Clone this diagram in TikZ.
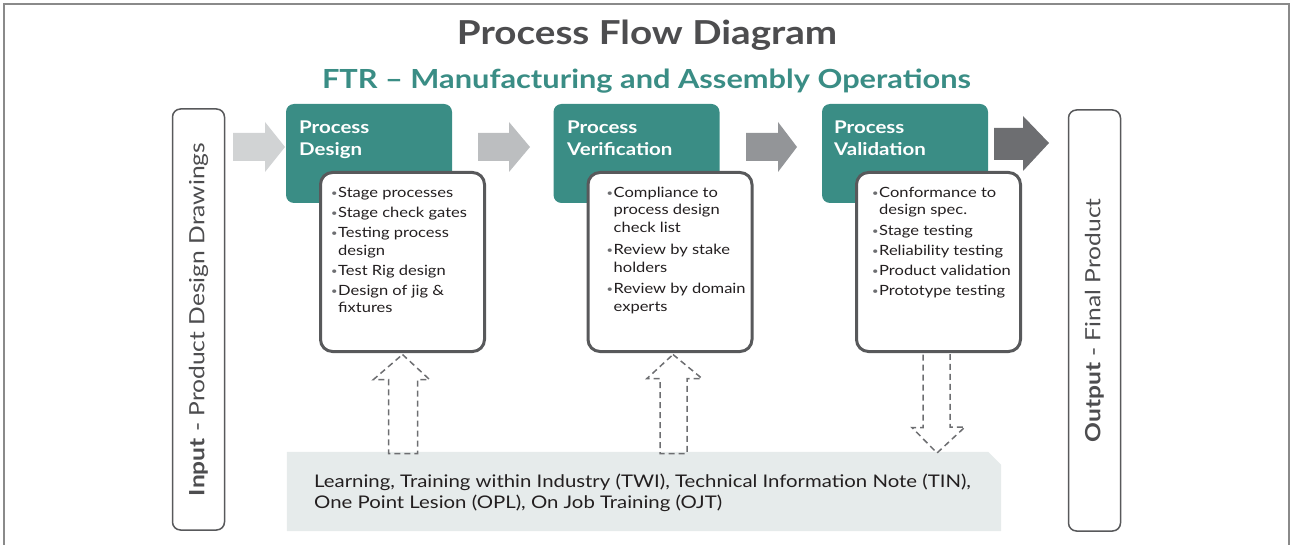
\documentclass[tikz,border=0pt]{standalone}
\usepackage{fontspec}
\setmainfont{Lato}[FakeStretch=1.17]
\definecolor{tealc}{HTML}{3A8D85}
\definecolor{titlec}{HTML}{4D4D4F}
\definecolor{framec}{HTML}{8A8A8A}
\definecolor{boxc}{HTML}{58595B}
\definecolor{learnc}{HTML}{E6EBEB}
\definecolor{txtc}{HTML}{231F20}
\definecolor{bulc}{HTML}{6D6E71}
\definecolor{arA}{HTML}{D1D3D4}
\definecolor{arB}{HTML}{BCBEC0}
\definecolor{arC}{HTML}{939598}
\definecolor{arD}{HTML}{6D6E71}
\definecolor{dashc}{HTML}{6D6E71}
\newcommand{\bl}{\makebox[7pt][l]{\textcolor{bulc}{\fontsize{9.5}{9.5}\selectfont\raisebox{1pt}{•}}}}
\newcommand{\ind}{\hspace*{7pt}}
\pgfdeclarelayer{bg}
\pgfdeclarelayer{mid}
\pgfsetlayers{bg,mid,main}
\tikzset{
  sidebox/.style={draw=boxc, line width=1.5pt, rounded corners=8pt, fill=white, rotate=90,
    minimum width=421pt, minimum height=52pt, inner sep=0pt, text=titlec,
    font=\fontsize{21}{24}\selectfont},
  headbox/.style={fill=tealc, rounded corners=8pt, minimum width=166pt, minimum height=99pt, inner sep=0pt},
  headtext/.style={text=white, font=\fontsize{17.5}{22}\selectfont\bfseries, inner sep=0pt, anchor=base west},
  listbox/.style={draw=boxc, line width=3pt, fill=white, rounded corners=12pt, minimum width=164pt, minimum height=179pt, inner sep=0pt},
  listtext/.style={text=txtc, font=\fontsize{14.1}{17.5}\selectfont, inner sep=0pt, anchor=base west},
  learnbox/.style={minimum width=714pt, minimum height=79pt, inner sep=0pt},
  learnfill/.style={fill=learnc},
  dasharrow/.style={draw=dashc, line width=1.5pt, dash pattern=on 6pt off 4pt, line join=miter},
}
\begin{document}
\begin{tikzpicture}[x=1pt,y=-1pt]
\useasboundingbox (0,0) rectangle (1290,545);
% frame
\draw[framec, line width=1.3pt] (4,547) -- (4,4) -- (1289,4) -- (1289,547);
% titles
\node[font=\fontsize{33}{36}\selectfont\bfseries, text=titlec, inner sep=0pt] (title) at (647,35) {Process Flow Diagram};
\node[font=\fontsize{26.3}{30}\selectfont\bfseries, text=tealc, inner sep=0pt] (sub) at (646.5,81) {FTR – Manufacturing and Assembly Operations};
% side boxes
\node[sidebox] (in) at (198.5,319.5) {\textbf{Input} - Product Design Drawings};
\node[sidebox] (out) at (1094.5,320.5) {\textbf{Output} - Final Product};
% header boxes
\node[headbox] (h1) at (369,153.5) {};
\node[headbox] (h2) at (636.5,153.5) {};
\node[headbox] (h3) at (905,153.5) {};
\node[headtext] (h1t) at (299,134) {\begin{tabular}[t]{@{}l@{}}Process\\Design\end{tabular}};
\node[headtext] (h2t) at (567,134) {\begin{tabular}[t]{@{}l@{}}Process\\Verification\end{tabular}};
\node[headtext] (h3t) at (834,134) {\begin{tabular}[t]{@{}l@{}}Process\\Validation\end{tabular}};
% big arrows
\fill[arA] (233,133) -- (265,133) -- (265,122) -- (285,147) -- (265,172) -- (265,161) -- (233,161) -- cycle;
\fill[arB] (478,133) -- (509,133) -- (509,122) -- (530,147) -- (509,172) -- (509,161) -- (478,161) -- cycle;
\fill[arC] (746,133) -- (778,133) -- (778,122) -- (797,147) -- (778,172) -- (778,161) -- (746,161) -- cycle;
\fill[arD] (994,128) -- (1023,128) -- (1023,116) -- (1049,143) -- (1023,171) -- (1023,160) -- (994,160) -- cycle;
% learning box
\node[learnbox] (learn) at (644,491.5) {};
\begin{pgfonlayer}{bg}
\fill[learnfill] (learn.south west) -- (learn.north west) -- ([xshift=-13pt]learn.north east) -- ([yshift=-13pt]learn.north east) -- (learn.south east) -- cycle;
\end{pgfonlayer}
\node[text=txtc, font=\fontsize{17.4}{21}\selectfont, inner sep=0pt, anchor=base west] (learnt) at (314,487)
  {\begin{tabular}[t]{@{}l@{}}Learning, Training within Industry (TWI), Technical Information Note (TIN),\\One Point Lesion (OPL), On Job Training (OJT)\end{tabular}};
% list boxes
\node[listbox] (b1) at (402.5,262) {};
\node[listbox] (b2) at (670,262) {};
\node[listbox] (b3) at (938.5,262) {};
\node[listtext] (b1t) at (331,198) {\begin{tabular}[t]{@{}l@{}}
\bl Stage processes\\[2.5pt]
\bl Stage check gates\\[2.5pt]
\bl Testing process\\
\ind design\\[2.5pt]
\bl Test Rig design\\[2.5pt]
\bl Design of jig \&\\
\ind fixtures
\end{tabular}};
\node[listtext] (b2t) at (606.5,197.5) {\begin{tabular}[t]{@{}l@{}}
\bl Compliance to\\
\ind process design\\
\ind check list\\[5pt]
\bl Review by stake\\
\ind holders\\[4pt]
\bl Review by domain\\
\ind experts
\end{tabular}};
\node[listtext] (b3t) at (872,197.5) {\begin{tabular}[t]{@{}l@{}}
\bl Conformance to\\
\ind design spec.\\[3pt]
\bl Stage testing\\[2.5pt]
\bl Reliability testing\\[2.5pt]
\bl Product validation\\[2.5pt]
\bl Prototype testing
\end{tabular}};
% dashed arrows
\begin{pgfonlayer}{mid}
\draw[dasharrow] (b1.south) ++(0,1.5) -- ++(27,25) -- ++(-12,0) -- ++(0,74) -- ++(-29,0) -- ++(0,-74) -- ++(-15,0) -- cycle;
\draw[dasharrow] (b2.south) ++(3,1.5) -- ++(29,24) -- ++(-15,0) -- ++(0,75) -- ++(-27,0) -- ++(0,-75) -- ++(-13,0) -- cycle;
\draw[dasharrow] (b3.south) ++(-15.5,1.5) -- ++(0,73) -- ++(-11,0) -- (937,453) -- ++(28,-26) -- ++(-15,0) -- ++(0,-73);
\end{pgfonlayer}
\end{tikzpicture}
\end{document}
